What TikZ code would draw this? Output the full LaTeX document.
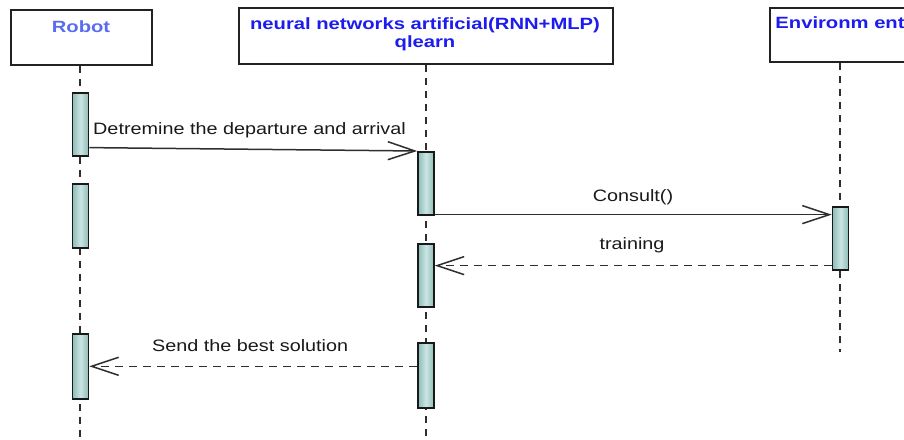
\documentclass[tikz,border=0pt]{standalone}
\usepackage{fontspec}
\setmainfont{Liberation Sans}
\newfontfamily\hdrfont[FakeStretch=1.24]{Liberation Sans}
\newfontfamily\msgfont[FakeStretch=1.2]{Liberation Sans}
\usetikzlibrary{arrows.meta}
\definecolor{linegray}{HTML}{2E2E2E}
\definecolor{boxline}{HTML}{222222}
\definecolor{barside}{HTML}{8DBCB8}
\definecolor{barmid}{HTML}{CBE5E3}
\definecolor{robotblue}{RGB}{88,108,240}
\definecolor{hdrblue}{RGB}{28,28,238}
\tikzset{
  objbox/.style={draw=boxline, line width=2pt, fill=white},
  hdrtext/.style={font=\hdrfont\bfseries\fontsize{16.3}{18}\selectfont, text=hdrblue, anchor=base, inner sep=0pt, align=center},
  lifeline/.style={draw=linegray, line width=2pt, dash pattern=on 7pt off 6pt},
  actbar/.style={draw=black!90, line width=1.6pt, left color=barside, right color=barside, middle color=barmid, minimum width=16pt, inner sep=0pt, anchor=north},
  msgtext/.style={font=\msgfont\fontsize{16.5}{19.5}\selectfont, text=black!90, inner sep=0pt},
  callmsg/.style={draw=linegray, line width=1.5pt, -{Straight Barb[length=27pt,width=18pt]}},
  replymsg/.style={callmsg, dash pattern=on 8pt off 6pt},
}
\begin{document}
\begin{tikzpicture}[x=1pt, y=-1pt]
\useasboundingbox (0,0) rectangle (904,439);
\clip (0,0) rectangle (904,439);

% object boxes
\node[objbox, minimum width=141pt, minimum height=55pt, anchor=north west] (robotbox) at (10,9) {};
\node[objbox, minimum width=374pt, minimum height=56pt, anchor=north west] (nnbox) at (238,7) {};
\node[objbox, minimum width=142pt, minimum height=54pt, anchor=north west] (envbox) at (769,7) {};

\node[hdrtext, text=robotblue] (robottxt) at (81,32) {Robot};
\node[hdrtext, anchor=north] (nntxt) at (425,17) {neural networks artificial(RNN+MLP)\\qlearn};
\node[hdrtext] (envtxt) at (840,28) {Environm ent};

% lifelines
\coordinate (robotend) at (80,439);
\coordinate (nnend) at (426,439);
\coordinate (envend) at (840,352);
\draw[lifeline] (robotbox.south -| robotend) -- (robotend);
\draw[lifeline] (nnbox.south -| nnend) -- (nnend);
\draw[lifeline] (envbox.south -| envend) -- (envend);

% activation bars
\node[actbar, minimum height=63pt] (r1) at (80.5,92) {};
\node[actbar, minimum height=64pt] (r2) at (80.5,183) {};
\node[actbar, minimum height=65pt] (r3) at (80.5,333) {};
\node[actbar, minimum height=63pt] (n1) at (426,151) {};
\node[actbar, minimum height=63pt] (n2) at (426,243) {};
\node[actbar, minimum height=65pt] (n3) at (426,342) {};
\node[actbar, minimum height=63pt] (e1) at (840.5,206) {};

% messages
\draw[callmsg] ([yshift=9pt]r1.south east) -- (n1.north west);
\node[msgtext, anchor=base west] (m1) at (93,134) {Detremine the departure and arrival};

\draw[callmsg] ([yshift=1pt]n1.south east) -- ([yshift=1pt]n1.south east -| e1.west);
\node[msgtext, anchor=base] (m2) at (633,201) {Consult()};

\draw[replymsg] ([yshift=5pt]e1.south west) -- ([yshift=5pt]e1.south west -| n2.east);
\node[msgtext, anchor=base] (m3) at (632,249) {training};

\draw[replymsg] ([yshift=9pt]n3.west) -- ([yshift=9pt]n3.west -| r3.east);
\node[msgtext, anchor=base west] (m4) at (152,351) {Send the best solution};
\end{tikzpicture}
\end{document}
